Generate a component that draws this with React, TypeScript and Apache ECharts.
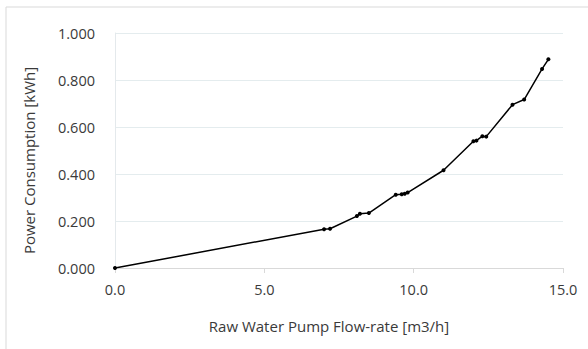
import React, { useEffect, useRef } from "react";
import * as echarts from "echarts";

const flowRate = [0, 7.0, 7.2, 8.1, 8.2, 8.5, 9.4, 9.6, 9.7, 9.8, 11.0, 12.0, 12.1, 12.3, 12.43, 13.31, 13.7, 14.3, 14.51];
const power = [0, 0.165, 0.167, 0.221, 0.231, 0.234, 0.312, 0.314, 0.316, 0.321, 0.416, 0.539, 0.542, 0.561, 0.559, 0.695, 0.717, 0.847, 0.888];
const xTitle = "Raw Water Pump Flow-rate [m3/h]";
const yTitle = "Power Consumption [kWh]";

export default function App() {
  const ref = useRef<HTMLDivElement>(null);
  useEffect(() => {
    if (!ref.current) return;
    const chart = echarts.init(ref.current, null, { renderer: "svg" });
    const font = "'Open Sans', 'Liberation Sans', sans-serif";
    chart.setOption({
      animation: false,
      backgroundColor: "#ffffff",
      graphic: [
        {
          type: "rect",
          shape: { x: 6, y: 7, width: 700, height: 500 },
          style: { fill: "none", stroke: "#d9d9d9", lineWidth: 1 },
          silent: true,
        },
      ],
      grid: { left: 115, right: 25, top: 33, bottom: 81 },
      xAxis: {
        type: "value",
        min: 0,
        max: 15,
        interval: 5,
        name: xTitle,
        nameLocation: "middle",
        nameGap: 50,
        nameTextStyle: { fontFamily: font, fontSize: 15, color: "#3a3a3a", padding: [0, 20, 0, 0] },
        axisLine: { show: true, lineStyle: { color: "#d9d9d9", width: 1 } },
        axisTick: { show: true, length: 5, lineStyle: { color: "#d9d9d9" } },
        axisLabel: {
          margin: 14,
          fontFamily: font,
          fontSize: 14.5,
          color: "#3a3a3a",
          formatter: (v: number) => v.toFixed(1),
        },
        splitLine: { show: false },
      },
      yAxis: {
        type: "value",
        min: 0,
        max: 1,
        interval: 0.2,
        name: yTitle,
        nameLocation: "middle",
        nameGap: 79,
        nameRotate: 90,
        nameTextStyle: { fontFamily: font, fontSize: 15, color: "#3a3a3a", padding: [0, 20, 0, 0] },
        axisLine: { show: true, lineStyle: { color: "#e4e9ec", width: 1 } },
        axisTick: { show: false },
        axisLabel: {
          margin: 20,
          fontFamily: font,
          fontSize: 14.5,
          color: "#3a3a3a",
          formatter: (v: number) => v.toFixed(3),
        },
        splitLine: { show: true, lineStyle: { color: "#e4ecee", width: 1 } },
      },
      series: [
        {
          type: "line",
          data: flowRate.map((x, i) => [x, power[i]]),
          symbol: "circle",
          symbolSize: 4,
          showSymbol: true,
          itemStyle: { color: "#000000" },
          lineStyle: { color: "#000000", width: 1.5 },
          z: 3,
        },
      ],
    });
    return () => chart.dispose();
  }, []);
  return (
    <div
      ref={ref}
      style={{ position: "fixed", left: 0, top: 0, width: 588, height: 349, background: "#fff" }}
    />
  );
}
